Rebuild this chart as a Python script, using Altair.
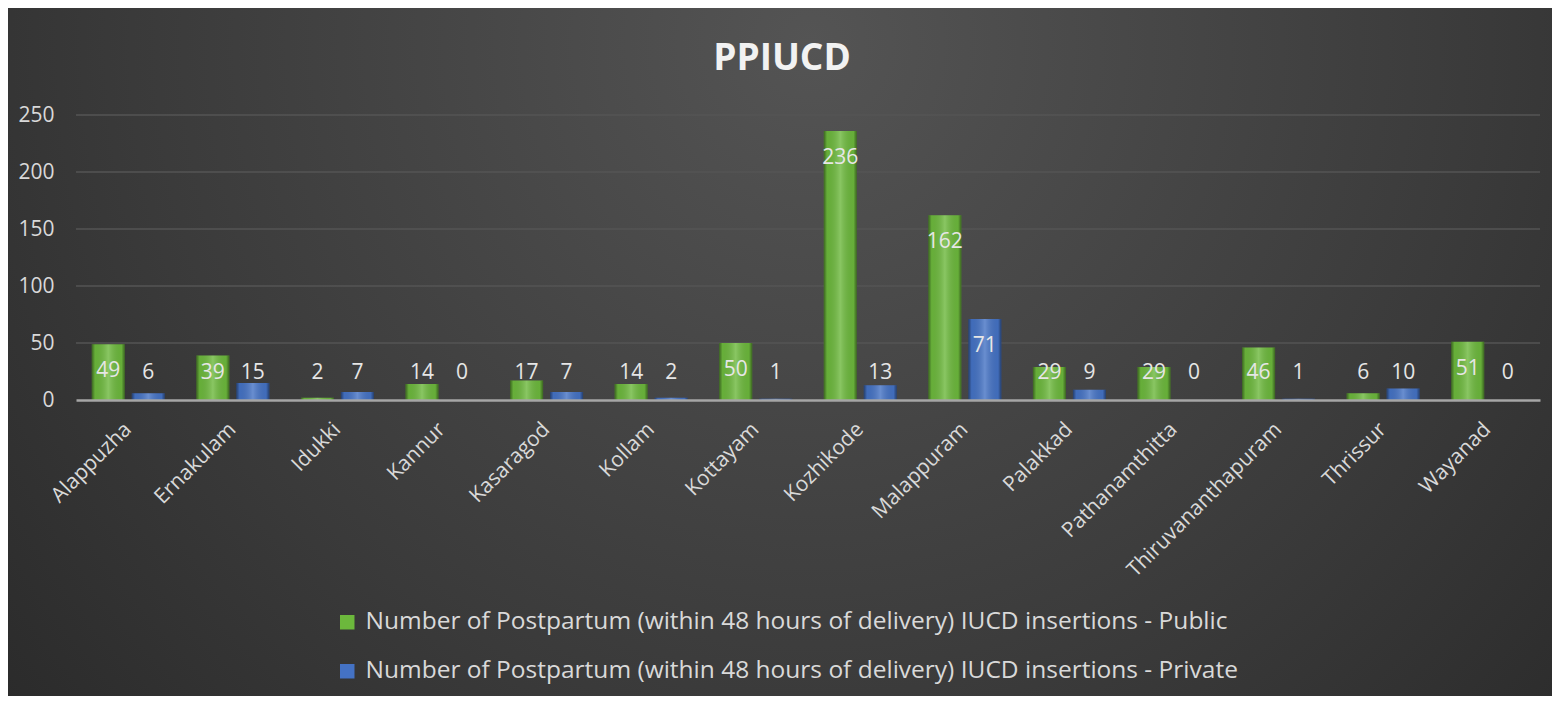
import altair as alt
import pandas as pd

districts = ["Alappuzha", "Ernakulam", "Idukki", "Kannur", "Kasaragod", "Kollam",
             "Kottayam", "Kozhikode", "Malappuram", "Palakkad", "Pathanamthitta",
             "Thiruvananthapuram", "Thrissur", "Wayanad"]
public_vals = [49, 39, 2, 14, 17, 14, 50, 236, 162, 29, 29, 46, 6, 51]
private_vals = [6, 15, 7, 0, 7, 2, 1, 13, 71, 9, 0, 1, 10, 0]
series_names = [
    "Number of Postpartum (within 48 hours of delivery) IUCD insertions - Public",
    "Number of Postpartum (within 48 hours of delivery) IUCD insertions - Private",
]
series_colors = ["#6cb83c", "#4472c4"]
y_ticks = [0, 50, 100, 150, 200, 250]
chart_title = ["PPIUCD"]

rows = []
for d, pu, pr in zip(districts, public_vals, private_vals):
    rows.append({"District": d, "Series": series_names[0], "Value": pu})
    rows.append({"District": d, "Series": series_names[1], "Value": pr})
df = pd.DataFrame(rows)
grid_df = pd.DataFrame({"tick": y_ticks[1:]})
title_df = pd.DataFrame({"t": chart_title})

W, H = 1464, 285
PL, PT, PR, PB = 68, 107, 12, 296
FONT = "Open Sans"
TXT = "#d9d9d9"

x_enc = alt.X("District:N", sort=districts,
              scale=alt.Scale(paddingInner=0.235, paddingOuter=0.1175),
              axis=alt.Axis(title=None, labelAngle=-45, labelAlign="right",
                            labelBaseline="middle", labelPadding=26, ticks=False,
                            domainColor="#a6a6a6", domainWidth=2.5,
                            labelColor=TXT, labelFontSize=21, labelFont=FONT,
                            labelLimit=0, labelOverlap=False,
                            zindex=1, grid=False))
xo_enc = alt.XOffset("Series:N", sort=series_names,
                     scale=alt.Scale(paddingInner=0.175, paddingOuter=0.0875))
y_scale = alt.Scale(domain=[0, 250])

bg = alt.Chart(pd.DataFrame({"k": [0]})).mark_rect(
    fill={"gradient": "radial", "x1": 0.52, "y1": 0.3, "x2": 0.52, "y2": 0.3,
          "r1": 0, "r2": 0.8,
          "stops": [{"offset": 0, "color": "#545454"},
                    {"offset": 0.55, "color": "#3a3a3a"},
                    {"offset": 1, "color": "#232323"}]}
).encode(x=alt.value(-PL), x2=alt.value(W + PR), y=alt.value(-PT), y2=alt.value(H + PB))

title = alt.Chart(title_df).mark_text(
    font=FONT, fontSize=37, fontWeight="bold", color="#f2f2f2",
    align="center", baseline="alphabetic"
).encode(text="t:N", x=alt.value(706), y=alt.value(-45))

grid = alt.Chart(grid_df).mark_rule(color="#555555", strokeWidth=1.5).encode(
    y=alt.Y("tick:Q", scale=y_scale), x=alt.value(0), x2=alt.value(W))

bars = alt.Chart(df).mark_bar().encode(
    x=x_enc, xOffset=xo_enc,
    y=alt.Y("Value:Q", scale=y_scale,
            axis=alt.Axis(title=None, values=y_ticks, grid=False, ticks=False, domain=False,
                          labelColor=TXT, labelFontSize=21, labelFont=FONT,
                          labelPadding=22, zindex=1)),
    color=alt.Color("Series:N", sort=series_names,
                    scale=alt.Scale(domain=series_names, range=series_colors),
                    legend=alt.Legend(title=None, orient="none", legendX=259, legendY=495,
                                      direction="vertical", symbolType="square",
                                      symbolSize=210, symbolStrokeWidth=0,
                                      labelFontSize=24.5, labelFont=FONT, labelColor=TXT,
                                      labelLimit=2000, rowPadding=24, labelOffset=6,
                                      zindex=1)),
)

bevel = alt.Chart(df).mark_bar(
    fill={"gradient": "linear", "x1": 0, "y1": 0, "x2": 1, "y2": 0,
          "stops": [{"offset": 0, "color": "rgba(0,0,0,0.45)"},
                    {"offset": 0.1, "color": "rgba(0,0,0,0.05)"},
                    {"offset": 0.5, "color": "rgba(255,255,255,0.2)"},
                    {"offset": 0.9, "color": "rgba(0,0,0,0.05)"},
                    {"offset": 1, "color": "rgba(0,0,0,0.45)"}]}
).encode(x=x_enc, xOffset=xo_enc, y=alt.Y("Value:Q", scale=y_scale))

labels = alt.Chart(df).transform_calculate(
    LabelPos="max(datum.Value - 23.7, 23.7)"
).mark_text(fontSize=21, font=FONT, color="#e6e6e6", baseline="middle").encode(
    x=x_enc, xOffset=xo_enc, y=alt.Y("LabelPos:Q", scale=y_scale), text="Value:Q")

chart = alt.layer(bg, title, grid, bars, bevel, labels).properties(
    width=W, height=H,
    autosize=alt.AutoSizeParams(type="none"),
    padding={"left": PL, "top": PT, "right": PR, "bottom": PB},
    background="#2a2a2a",
).configure_view(stroke=None).configure_legend(padding=0)

chart.save("out.html", embed_options={"renderer": "svg", "actions": False})
